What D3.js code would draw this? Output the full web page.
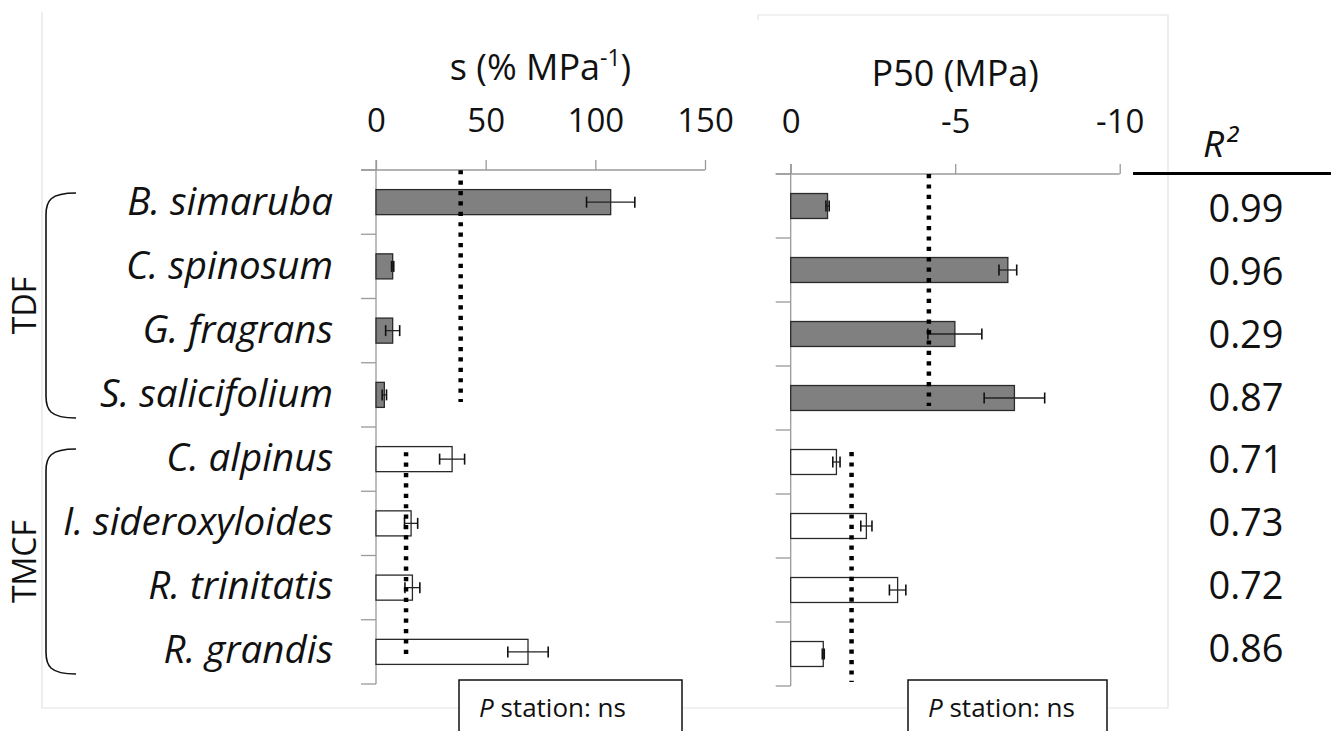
<!DOCTYPE html>
<html>
<head>
<meta charset="utf-8">
<script src="https://cdn.jsdelivr.net/npm/d3@7"></script>
<style>
  html, body { margin: 0; padding: 0; background: #fff; }
  svg { display: block; font-family: "Open Sans", sans-serif; }
</style>
</head>
<body>
<svg id="chart" width="1331" height="731"></svg>
<script>
// ---------- data ----------
const species = ["B. simaruba", "C. spinosum", "G. fragrans", "S. salicifolium",
                 "C. alpinus", "I. sideroxyloides", "R. trinitatis", "R. grandis"];
const forest = ["TDF", "TDF", "TDF", "TDF", "TMCF", "TMCF", "TMCF", "TMCF"];
const groups = ["TDF", "TMCF"];
const sValues = [107, 7.6, 7.6, 3.8, 34.7, 16.0, 16.6, 69.3];
const sErrors = [11, 0.5, 3.2, 1.0, 5.7, 3.0, 3.4, 9.2];
const p50Values = [-1.12, -6.6, -4.99, -6.8, -1.39, -2.3, -3.25, -0.99];
const p50Errors = [0.05, 0.27, 0.82, 0.92, 0.11, 0.17, 0.25, 0.03];
const sMeans = [38.6, 13.7];      // dotted group means
const p50Means = [-4.2, -1.85];
const r2Values = ["0.99", "0.96", "0.29", "0.87", "0.71", "0.73", "0.72", "0.86"];
const sTicks = [0, 50, 100, 150];
const p50Ticks = [0, -5, -10];
const stationText = "station: ns";

// ---------- setup ----------
const svg = d3.select("#chart");
const FONT = "Open Sans, sans-serif";
const axisColor = "#9a9a9a";
const fillFor = g => g === "TDF" ? "#808080" : "#ffffff";

// faint frame
const frame = svg.append("g").attr("stroke", "#e3e3e3").attr("stroke-width", 1.2).attr("fill", "none");
frame.append("path").attr("d", "M42,12 V708 H1168 V15 H758 V20");

const panels = [
  { values: sValues, errors: sErrors, means: sMeans, ticks: sTicks,
    x0: 376, x1: 705, yTop: 170, yBot: 684, titleY: 80, tickY: 132,
    meanExt: [[-32, 7], [-7, 8]], box: [459, 682] , title: "s"},
  { values: p50Values, errors: p50Errors, means: p50Means, ticks: p50Ticks,
    x0: 790.7, x1: 1119.7, yTop: 174, yBot: 686, titleY: 86, tickY: 133,
    meanExt: [[-32, 8], [-10, 28]], box: [908, 1107], title: "P50 (MPa)"}
];

panels.forEach((P, pi) => {
  const x = d3.scaleLinear().domain([P.ticks[0], P.ticks[P.ticks.length - 1]]).range([P.x0, P.x1]);
  const y = d3.scaleBand().domain(species).range([P.yTop, P.yBot]).paddingInner(0.61).paddingOuter(0.305);
  const g = svg.append("g");

  // top axis
  const xAxis = d3.axisTop(x).tickValues(P.ticks).tickFormat(d => String(d)).tickSizeInner(10).tickSizeOuter(0).tickPadding(28);
  const ax = g.append("g").attr("transform", `translate(0,${P.yTop})`).call(xAxis);
  ax.select(".domain").attr("stroke", axisColor).attr("stroke-width", 1.3)
    .attr("d", `M${P.x0 - 15},0H${P.x1}`);
  ax.selectAll(".tick line").attr("stroke", axisColor).attr("stroke-width", 1.3);
  ax.selectAll(".tick text").attr("font-family", FONT).attr("font-size", 33).attr("fill", "#111")
    .attr("y", null).attr("dy", null).attr("transform", `translate(0,${P.tickY - P.yTop})`);

  // left category axis (ticks at band boundaries)
  const step = y.step();
  const bounds = d3.range(species.length + 1).map(i => P.yTop + i * step);
  g.append("line").attr("x1", P.x0).attr("x2", P.x0).attr("y1", P.yTop - 10).attr("y2", P.yBot)
    .attr("stroke", axisColor).attr("stroke-width", 1.3);
  g.selectAll(".ctick").data(bounds).join("line")
    .attr("x1", P.x0 - 15).attr("x2", P.x0).attr("y1", d => d).attr("y2", d => d)
    .attr("stroke", axisColor).attr("stroke-width", 1.3);

  // title
  const t = g.append("text").attr("x", (P.x0 + P.x1) / 2).attr("y", P.titleY)
    .attr("text-anchor", "middle").attr("font-family", FONT).attr("font-size", 36).attr("fill", "#111");
  if (pi === 0) {
    t.append("tspan").text("s (% MPa");
    t.append("tspan").text("-1").attr("font-size", 23).attr("dy", -14);
    t.append("tspan").text(")").attr("dy", 14);
  } else {
    t.text(P.title);
  }

  // bars
  g.selectAll(".bar").data(species).join("rect")
    .attr("x", P.x0)
    .attr("y", d => y(d))
    .attr("width", (d, i) => x(P.values[i]) - x(0))
    .attr("height", y.bandwidth())
    .attr("fill", (d, i) => fillFor(forest[i]))
    .attr("stroke", "#2a2a2a").attr("stroke-width", 1.3);

  // error bars
  const eb = g.selectAll(".err").data(species).join("g");
  eb.append("line")
    .attr("x1", (d, i) => x(P.values[i] - Math.sign(P.values[i]) * P.errors[i]))
    .attr("x2", (d, i) => x(P.values[i] + Math.sign(P.values[i]) * P.errors[i]))
    .attr("y1", d => y(d) + y.bandwidth() / 2).attr("y2", d => y(d) + y.bandwidth() / 2)
    .attr("stroke", "#222").attr("stroke-width", 1.3);
  [-1, 1].forEach(s => {
    eb.append("line")
      .attr("x1", (d, i) => x(P.values[i] + s * Math.sign(P.values[i]) * P.errors[i]))
      .attr("x2", (d, i) => x(P.values[i] + s * Math.sign(P.values[i]) * P.errors[i]))
      .attr("y1", d => y(d) + y.bandwidth() / 2 - 5.5).attr("y2", d => y(d) + y.bandwidth() / 2 + 5.5)
      .attr("stroke", "#111").attr("stroke-width", 1.6);
  });

  // dotted group means
  groups.forEach((grp, gi) => {
    const members = species.filter((s, i) => forest[i] === grp);
    const c0 = y(members[0]) + y.bandwidth() / 2;
    const c1 = y(members[members.length - 1]) + y.bandwidth() / 2;
    g.append("line")
      .attr("x1", x(P.means[gi])).attr("x2", x(P.means[gi]))
      .attr("y1", c0 + P.meanExt[gi][0]).attr("y2", c1 + P.meanExt[gi][1])
      .attr("stroke", "#000").attr("stroke-width", 4.5).attr("stroke-dasharray", "4.2,6.2");
  });

  // P station box
  const bx = g.append("g");
  bx.append("rect").attr("x", P.box[0]).attr("y", 680).attr("width", P.box[1] - P.box[0]).attr("height", 70)
    .attr("fill", "#fff").attr("stroke", "#111").attr("stroke-width", 1.5);
  const bt = bx.append("text").attr("x", P.box[0] + 20).attr("y", 717)
    .attr("font-family", FONT).attr("font-size", 26).attr("fill", "#111");
  bt.append("tspan").text("P").attr("font-style", "italic");
  bt.append("tspan").text(" " + stationText);
});

// species labels
const yLab = d3.scalePoint().domain(species).range([215, 663]);
svg.append("g").selectAll("text").data(species).join("text")
  .attr("x", 333).attr("y", d => yLab(d))
  .attr("text-anchor", "end").attr("font-family", FONT).attr("font-style", "italic")
  .attr("font-size", 38.5).attr("fill", "#111").text(d => d);

// braces and group labels
const braceG = svg.append("g").attr("fill", "none").attr("stroke", "#111").attr("stroke-width", 1.6);
groups.forEach((grp, gi) => {
  const members = species.filter((s, i) => forest[i] === grp);
  const top = yLab(members[0]) - 22;
  const bot = yLab(members[members.length - 1]) + 11;
  const xr = 76, xl = 46;
  braceG.append("path")
    .attr("d", `M${xr},${top} C${xl + 4},${top} ${xl},${top + 8} ${xl},${top + 22} V${bot - 22} C${xl},${bot - 8} ${xl + 4},${bot} ${xr},${bot}`);
  const cy = (top + bot) / 2;
  svg.append("text").attr("transform", `translate(36,${cy}) rotate(-90)`)
    .attr("text-anchor", "middle").attr("font-family", FONT).attr("font-size", 32).attr("fill", "#111")
    .text(grp);
});

// R² column
svg.append("text").attr("x", 1203).attr("y", 157).attr("font-family", FONT).attr("font-style", "italic")
  .attr("font-size", 37).attr("fill", "#111").text("R²");
svg.append("line").attr("x1", 1133).attr("x2", 1331).attr("y1", 173.5).attr("y2", 173.5)
  .attr("stroke", "#000").attr("stroke-width", 3);
const yR2 = d3.scalePoint().domain(species).range([222, 662]);
svg.append("g").selectAll("text").data(species).join("text")
  .attr("x", 1246).attr("y", d => yR2(d)).attr("text-anchor", "middle")
  .attr("font-family", FONT).attr("font-size", 38).attr("fill", "#111")
  .text((d, i) => r2Values[i]);
</script>
</body>
</html>
